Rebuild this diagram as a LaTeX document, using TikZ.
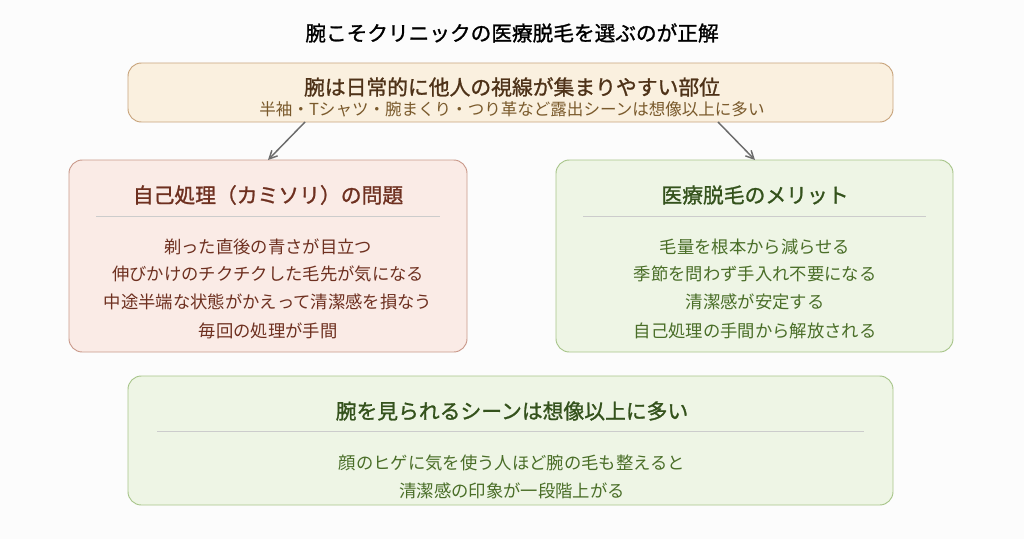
\documentclass[tikz,border=0pt]{standalone}
\usepackage{fontspec}
\setmainfont{Noto Sans CJK JP}
\newfontfamily\hdfont{Noto Sans CJK JP}[FakeBold=1.2]
\begin{document}
\begin{tikzpicture}[x=0.75pt,y=-0.75pt,
 box/.style={draw,rounded corners=10pt,line width=0.7pt},
 ti/.style={font=\hdfont\fontsize{15.5}{17}\selectfont},
 hd/.style={font=\hdfont\fontsize{15.6}{18}\selectfont},
 tx/.style={font=\fontsize{13}{15}\selectfont},
 sb/.style={font=\fontsize{12.4}{15}\selectfont},
 arr/.style={draw=gray!85!black,line width=1.1pt,-{Straight Barb[length=6pt,width=6pt]}}]
\usetikzlibrary{arrows.meta}
\definecolor{tf}{HTML}{FAF0DF}\definecolor{tb}{HTML}{C8A47C}
\definecolor{lf}{HTML}{FAEBE6}\definecolor{lb}{HTML}{C9998A}
\definecolor{gf}{HTML}{EEF5E5}\definecolor{gb}{HTML}{A8C58A}
\definecolor{bt}{HTML}{4E3218}\definecolor{bs}{HTML}{7A5A2C}
\definecolor{rt}{HTML}{6E3020}\definecolor{gt}{HTML}{34521C}\definecolor{gs}{HTML}{4A6E28}
\fill[white!98!gray] (0,0) rectangle (1024,539);
\node[ti,text=black] (title) at (512,33) {腕こそクリニックの医療脱毛を選ぶのが正解};
\draw[box,fill=tf,draw=tb] (128,63) rectangle (893,122);
\node[hd,text=bt] (t1) at (512,87) {腕は日常的に他人の視線が集まりやすい部位};
\node[sb,text=bs] (t2) at (512,109) {半袖・Tシャツ・腕まくり・つり革など露出シーンは想像以上に多い};
\draw[box,fill=lf,draw=lb] (69,160) rectangle (467,352);
\node[hd,text=rt] (lh) at (268,195) {自己処理（カミソリ）の問題};
\draw[gray!40] (96,216) -- (440,216);
\foreach \t/\y in {剃った直後の青さが目立つ/247,伸びかけのチクチクした毛先が気になる/274,中途半端な状態がかえって清潔感を損なう/302,毎回の処理が手間/331}
 \node[tx,text=rt] at (268,\y) {\t};
\draw[box,fill=gf,draw=gb] (556,160) rectangle (953,352);
\node[hd,text=gt] (rh) at (755,195) {医療脱毛のメリット};
\draw[gray!40] (583,216) -- (926,216);
\foreach \t/\y in {毛量を根本から減らせる/247,季節を問わず手入れ不要になる/274,清潔感が安定する/302,自己処理の手間から解放される/331}
 \node[tx,text=gs] at (755,\y) {\t};
\draw[box,fill=gf,draw=gb] (128,376) rectangle (893,505);
\node[hd,text=gt] (bh) at (512,411) {腕を見られるシーンは想像以上に多い};
\draw[gray!40] (157,431) -- (864,431);
\node[tx,text=gs] at (512,463) {顔のヒゲに気を使う人ほど腕の毛も整えると};
\node[tx,text=gs] at (512,491) {清潔感の印象が一段階上がる};
\coordinate (a1) at (305,122); \coordinate (a2) at (268,160);
\coordinate (b1) at (718,122); \coordinate (b2) at (755,160);
\draw[arr] (a1) -- (a2); \draw[arr] (b1) -- (b2);
\end{tikzpicture}
\end{document}
